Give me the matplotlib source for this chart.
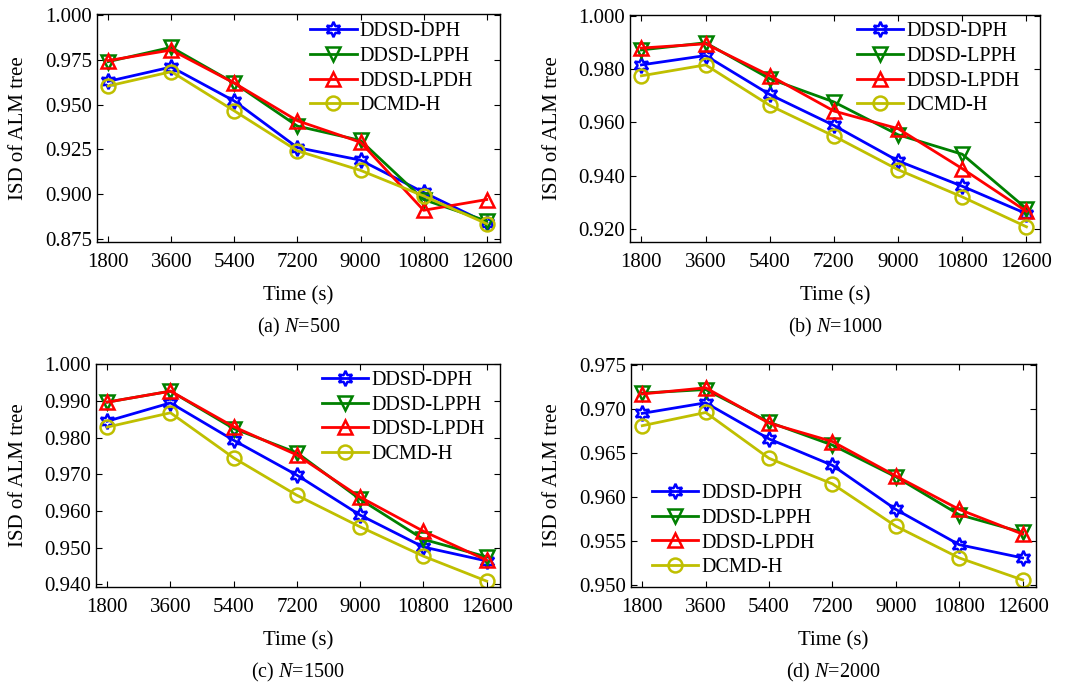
import matplotlib
matplotlib.use('Agg')
import matplotlib.pyplot as plt

plt.rcParams['font.family'] = 'Liberation Serif'
plt.rcParams['mathtext.fontset'] = 'custom'
plt.rcParams['mathtext.it'] = 'Liberation Serif:italic'
plt.rcParams['mathtext.rm'] = 'Liberation Serif'

times = [1800, 3600, 5400, 7200, 9000, 10800, 12600]
names = ['DDSD-DPH', 'DDSD-LPPH', 'DDSD-LPDH', 'DCMD-H']

# N = 500
isd_500 = [
    [0.963, 0.971, 0.952, 0.926, 0.919, 0.901, 0.884],
    [0.974, 0.982, 0.962, 0.938, 0.930, 0.897, 0.885],
    [0.9746, 0.9805, 0.962, 0.941, 0.929, 0.891, 0.897],
    [0.9604, 0.9684, 0.9465, 0.9242, 0.9133, 0.899, 0.8835],
]
# N = 1000
isd_1000 = [
    [0.9815, 0.985, 0.9704, 0.9588, 0.9455, 0.936, 0.9257],
    [0.9871, 0.9898, 0.9763, 0.9676, 0.9553, 0.948, 0.9276],
    [0.9878, 0.9894, 0.9775, 0.9642, 0.9576, 0.9426, 0.9266],
    [0.9774, 0.9815, 0.9663, 0.9548, 0.9422, 0.932, 0.9208],
]
# N = 1500
isd_1500 = [
    [0.9845, 0.9895, 0.9793, 0.9698, 0.9589, 0.9502, 0.9464],
    [0.9897, 0.9927, 0.9825, 0.9759, 0.9632, 0.9523, 0.9475],
    [0.9897, 0.9927, 0.983, 0.9753, 0.9638, 0.9545, 0.9466],
    [0.9829, 0.9868, 0.9745, 0.9643, 0.9557, 0.9477, 0.9409],
]
# N = 2000
isd_2000 = [
    [0.9695, 0.9707, 0.9666, 0.9636, 0.9586, 0.9546, 0.9531],
    [0.9718, 0.9722, 0.9685, 0.9659, 0.9623, 0.958, 0.956],
    [0.9717, 0.9724, 0.9684, 0.9663, 0.9624, 0.9586, 0.9558],
    [0.9681, 0.9696, 0.9644, 0.9615, 0.9567, 0.9531, 0.9506],
]

colors = ['#0000ff', '#008000', '#ff0000', '#bfbf00']
markers = [(6, 1, 0), 'v', '^', 'o']

W, H = 1068, 682
fig = plt.figure(figsize=(W / 100, H / 100), dpi=100)

# panel boxes in pixels: left, top, right, bottom ; legend anchor (upper left, axes coords)
panels = [
    (isd_500, (97, 14, 500, 242), (0.8733, 1.0006), [0.875, 0.900, 0.925, 0.950, 0.975, 1.000], '(a)', '500', (0.529, 0.965)),
    (isd_1000, (630, 15, 1040, 242), (0.9151, 1.0002), [0.920, 0.940, 0.960, 0.980, 1.000], '(b)', '1000', (0.554, 0.969)),
    (isd_1500, (96, 364, 500, 587), (0.9393, 1.0001), [0.940, 0.950, 0.960, 0.970, 0.980, 0.990, 1.000], '(c)', '1500', (0.559, 0.969)),
    (isd_2000, (631, 364, 1036, 587), (0.9498, 0.9751), [0.950, 0.955, 0.960, 0.965, 0.970, 0.975], '(d)', '2000', (0.052, 0.462)),
]

for data, (l, t, r, b), ylim, yticks, tag, n, leg_pos in panels:
    ax = fig.add_axes([l / W, 1 - b / H, (r - l) / W, (b - t) / H])
    for i in range(4):
        ax.plot(times, data[i], color=colors[i], marker=markers[i], markersize=11 if i == 0 else 10,
                markerfacecolor='none', markeredgewidth=1.8, linewidth=2.0, label=names[i])
    ax.set_xlim(1480, 12980)
    ax.set_ylim(*ylim)
    ax.set_xticks(times)
    ax.set_yticks(yticks)
    ax.set_yticklabels(['%.3f' % v for v in yticks])
    ax.tick_params(direction='in', labelsize=15, top=True, right=True, length=4, width=0.8)
    ax.tick_params(axis='x', pad=8)
    ax.set_xlabel('Time (s)', fontsize=15, labelpad=10)
    ax.set_ylabel('ISD of ALM tree', fontsize=15, labelpad=12)
    for s in ax.spines.values():
        s.set_linewidth(1.0)
    ax.legend(loc='upper left', bbox_to_anchor=leg_pos, frameon=False, fontsize=14.5,
              handlelength=2.3, labelspacing=0.28, handletextpad=0.15, borderpad=0, borderaxespad=0)
    cx = (l + r) / 2 / W
    fig.text(cx, 1 - (b + 85) / H, tag + ' $N$=' + n, ha='center', va='center', fontsize=14.5)

fig.savefig('out.png', dpi=100)
